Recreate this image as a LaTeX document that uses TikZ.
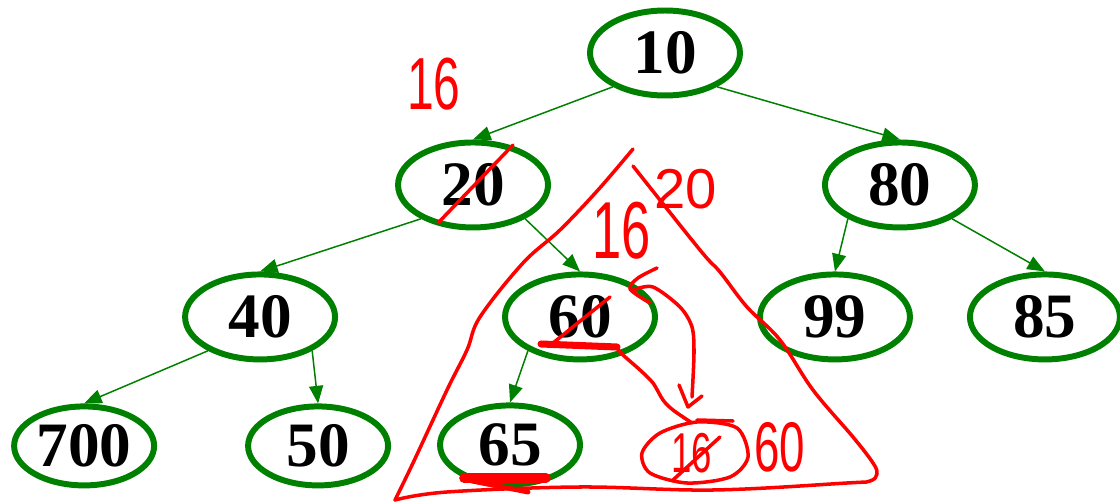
\documentclass[tikz,border=0pt]{standalone}
\usepackage{fontspec}
\usepackage{graphicx}
\setmainfont{Liberation Serif}
\newfontfamily\handfont{Liberation Sans}
\usetikzlibrary{positioning}
\usetikzlibrary{shapes.geometric}
\usetikzlibrary{arrows.meta}
\definecolor{treegreen}{RGB}{0,128,0}
\newcommand{\thin}[1]{\scalebox{0.65}[1]{#1}}
\tikzset{
  key/.style={ellipse, draw=treegreen, line width=3.4pt, minimum width=3cm,
    minimum height=1.7cm, inner sep=0pt, font=\bfseries\fontsize{36}{40}\selectfont},
  leaf/.style={key, minimum width=2.8cm, minimum height=1.58cm},
  link/.style={treegreen, line width=0.85pt, -{Triangle[length=10pt,width=8pt]}},
  ink/.style={red, line width=2pt, line cap=round, line join=round},
  scrawl/.style={text=red, inner sep=0pt, font=\handfont\fontsize{#1}{#1}\selectfont},
  scrawl/.default=40,
}

\begin{document}
\begin{tikzpicture}[x=0.02cm, y=-0.02cm, on grid]
  \useasboundingbox (0,0) rectangle (1120,503);

  \node [key] (ten) at (665,53) {10};
  \node [key, below left=2.64cm and 3.84cm of ten] (twenty) {20};
  \node [key, below right=2.64cm and 4.7cm of ten] (eighty) {80};

  \node [key, below left=2.64cm and 4.26cm of twenty] (forty) {40};
  \node [key, below right=2.64cm and 2.14cm of twenty] (sixty) {60};
  \node [key, below left=2.64cm and 1.3cm of eighty] (ninetynine) {99};
  \node [key, below right=2.64cm and 2.9cm of eighty] (eightyfive) {85};

  \node [leaf, below left=2.58cm and 3.52cm of forty] (sevenhundred) {700};
  \node [leaf, below right=2.58cm and 1.16cm of forty] (fifty) {50};
  \node [leaf, below left=2.56cm and 1.4cm of sixty] (sixtyfive) {65};

  \path [link] (ten.-147) edge (twenty.north) (ten.-33) edge (eighty.north)
    (twenty.-147) edge (forty.north) (twenty.-33) edge (sixty.north)
    (eighty.-147) edge (ninetynine.north) (eighty.-33) edge (eightyfive.north)
    (forty.-147) edge (sevenhundred.north) (forty.-33) edge (fifty.north)
    (sixty.-147) edge (sixtyfive.north);

  \node [scrawl=42] (newtwenty) at (434,84) {\thin{16}};
  \draw [ink] (438,223) -- (513,145);

  \draw [ink] plot [smooth, tension=0.6] coordinates {(633,149) (598,190) (560,230)
    (523,263) (480,317) (467,350) (447,390) (413,463) (395,500)};
  \draw [ink] plot [smooth, tension=0.6] coordinates {(395,500) (447,492) (580,487)
    (713,490) (847,483) (870,481) (877,474) (873,463) (853,437) (813,390) (780,340)
    (747,307) (720,272) (700,250) (633,166)};

  \node [scrawl=46] (newsixty) at (622,231) {\thin{16}};
  \node [scrawl=32] (oldtwenty) at (686,189) {20};

  \draw [ink] (553,343) -- (610,297);
  \draw [ink, line width=4pt] (541,344) -- (617,347);
  \draw [ink, line width=5.5pt] (464,478) -- (546,478);
  \draw [ink, line width=2.8pt] (472,481) -- (528,492);

  \draw [ink] plot [smooth] coordinates {(657,268) (638,278) (630,289) (650,303)};
  \draw [ink] plot [smooth] coordinates {(633,290) (653,287) (680,307) (692,327)
    (694,353) (692,397)};
  \draw [ink] (679,385) -- (688,407) -- (702,396);
  \draw [ink] plot [smooth] coordinates {(617,348) (623,355) (640,370) (653,383)
    (663,400) (673,410) (692,423)};

  \draw [ink] plot [smooth cycle] coordinates {(642,453) (660,433) (697,422)
    (737,428) (748,457) (730,477) (687,483) (650,473)};
  \draw [ink] (697,420) -- (733,421);
  \node [scrawl=32] (moved) at (692,453) {\thin{16}};
  \draw [ink] (673,480) -- (720,437);
  \node [scrawl=40] (newleaf) at (780,447) {\thin{60}};
\end{tikzpicture}
\end{document}
